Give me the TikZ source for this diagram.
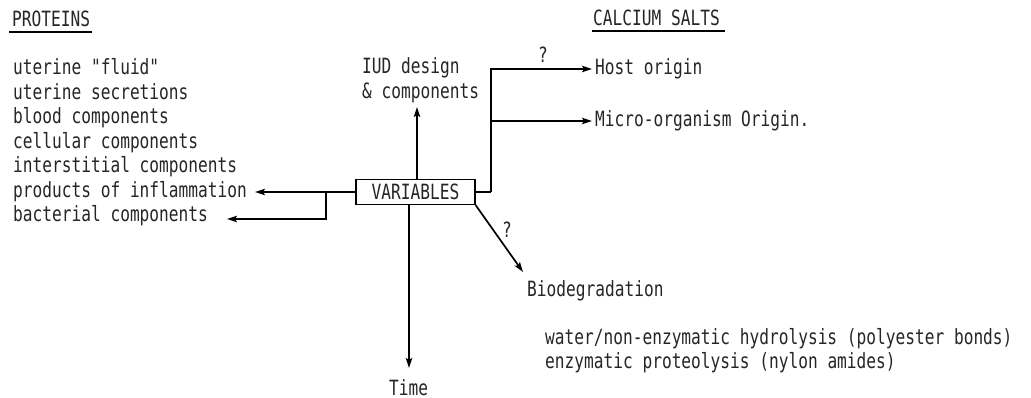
\documentclass[tikz,border=0pt]{standalone}
\usepackage{fontspec}
\newfontfamily\tw[FakeStretch=0.77]{DejaVu Sans Mono}
\usetikzlibrary{arrows.meta}
\tikzset{
  lbl/.style={anchor=base west, inner sep=0pt, font=\tw\fontsize{21}{25}\selectfont, text=black!85},
  arr/.style={line width=1.7pt, -{Stealth[length=10pt,width=6.5pt,inset=2pt]}},
  ln/.style={line width=1.7pt},
  uline/.style={line width=1.1pt},
  varbox/.style={draw, line width=1.3pt, minimum width=119pt, minimum height=25pt, inner sep=0pt, font=\tw\fontsize{21}{25}\selectfont, text=black!85}
}
\begin{document}
\begin{tikzpicture}[x=1pt,y=-1pt]
\useasboundingbox[fill=white] (0,0) rectangle (1031,398);
% titles
\node[lbl] (prot) at (12,27) {PROTEINS};
\node[lbl] (calc) at (593,26) {CALCIUM SALTS};
\draw[uline] (prot.base west) ++(-3,5) -- ++(83,0);
\draw[uline] (calc.base west) ++(-1,5) -- ++(133,0);
% protein list
\node[lbl] (p1) at (13,75) {uterine "fluid"};
\node[lbl] (p2) at (13,99.5) {uterine secretions};
\node[lbl] (p3) at (13,124) {blood components};
\node[lbl] (p4) at (13,148.5) {cellular components};
\node[lbl] (p5) at (13,173) {interstitial components};
\node[lbl] (p6) at (13,197.5) {products of inflammation};
\node[lbl] (p7) at (13,222) {bacterial components};
% IUD
\node[lbl] (iud1) at (362,74) {IUD design};
\node[lbl] (iud2) at (362,99) {\& components};
% right texts
\node[lbl] (host) at (595,75) {Host origin};
\node[lbl] (micro) at (595,127) {Micro-organism Origin.};
\node[lbl] (q1) at (538,63) {?};
\node[lbl] (q2) at (502,237) {?};
\node[lbl] (bio) at (527,296) {Biodegradation};
\node[lbl] (w1) at (545,344) {water/non-enzymatic hydrolysis (polyester bonds)};
\node[lbl] (w2) at (545,368) {enzymatic proteolysis (nylon amides)};
\node[lbl] (time) at (389,395) {Time};
% central box
\node[varbox] (var) at (415.5,192) {VARIABLES};
% coordinates
\coordinate (upE) at (417,107);
\coordinate (dnE) at (409,368);
\coordinate (rJ) at (491,192);
\coordinate (hT) at (592,69);
\coordinate (mT) at (592,121);
\coordinate (lJ) at (326,192);
\coordinate (pT) at (255,192);
\coordinate (bT) at (227,219);
\coordinate (bioT) at (523,272);
% connectors
\draw[arr] (upE |- var.north) -- (upE);
\draw[arr] (dnE |- var.south) -- (dnE);
\draw[ln] (var.east) -- (rJ);
\draw[arr] (rJ) |- (hT);
\draw[arr] (rJ |- mT) -- (mT);
\draw[arr] (var.west) -- (pT);
\draw[arr] (lJ) |- (bT);
\draw[arr] (var.south east) -- (bioT);
\end{tikzpicture}
\end{document}
